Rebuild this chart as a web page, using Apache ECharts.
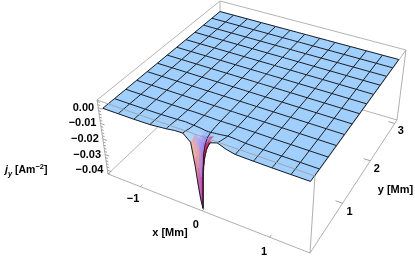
<!DOCTYPE html>
<html><head><meta charset="utf-8">
<style>html,body{margin:0;padding:0;background:#fff}#c{width:415px;height:257px;filter:blur(.45px)}</style>
<script src="https://cdn.jsdelivr.net/npm/echarts@6/dist/echarts.min.js"></script>
</head><body><div id="c"></div>
<script>
// ---- data ----
const xs=[-1.5,-1.25,-1,-.75,-.5,-.375,-.25,-.14,-.09,-.06,-.03,0,.03,.06,.09,.14,.25,.375,.5,.75,1,1.25,1.5];
const ys=[0,.03,.07,.12,.18,.25,.375,.5,.75,1,1.25,1.5,1.75,2,2.25,2.5,2.75,3];
const jy=[
[0,0,0,.0002,.0012,.002,.0022,-.002,-.016,-.027,-.036,-.0415,-.016,-.008,-.003,.002,.0036,.0015,.0003,.0001,0,0,0],
[0,0,0,.0002,.0012,.002,.002,-.0015,-.011,-.018,-.023,-.024,-.012,-.006,-.002,.0015,.0033,.0015,.0003,.0001,0,0,0],
[0,0,0,.0002,.0012,.002,.0018,-.001,-.005,-.008,-.009,-.009,-.006,-.003,-.0005,.0015,.0028,.0014,.0003,.0001,0,0,0],
[0,0,0,.0002,.001,.0016,.0012,0,-.002,-.003,-.004,-.004,-.003,-.0015,0,.001,.0022,.0012,.0003,.0001,0,0,0],
[0,0,0,.0001,.0008,.0012,.0008,-.0003,-.001,-.0015,-.0015,-.0015,-.001,-.0005,0,.0005,.0015,.001,.0003,.0001,0,0,0],
[0,0,0,.0001,.0005,.0008,.0004,0,-.0003,-.0005,-.0005,-.0005,-.0003,-.0001,0,.0002,.0009,.0007,.0002,0,0,0,0],
[0,0,0,0,.0003,.0004,.0002,.0001,0,0,-.0001,-.0001,0,0,0,.0001,.0003,.0003,.0001,0,0,0,0],
[0,0,0,0,.0001,.0002,.0001,.0001,0,0,0,0,0,0,0,.0001,.0001,.0001,.0001,0,0,0,0],
[0,0,0,0,0,0,0,0,0,0,0,0,0,0,0,0,0,0,0,0,0,0,0],
[0,0,0,0,0,0,0,0,0,0,0,0,0,0,0,0,0,0,0,0,0,0,0],
[0,0,0,0,0,0,0,0,0,0,0,0,0,0,0,0,0,0,0,0,0,0,0],
[0,0,0,0,0,0,0,0,0,0,0,0,0,0,0,0,0,0,0,0,0,0,0],
[0,0,0,0,0,0,0,0,0,0,0,0,0,0,0,0,0,0,0,0,0,0,0],
[0,0,0,0,0,0,0,0,0,0,0,0,0,0,0,0,0,0,0,0,0,0,0],
[0,0,0,0,0,0,0,0,0,0,0,0,0,0,0,0,0,0,0,0,0,0,0],
[0,0,0,0,0,0,0,0,0,0,0,0,0,0,0,0,0,0,0,0,0,0,0],
[0,0,0,0,0,0,0,0,0,0,0,0,0,0,0,0,0,0,0,0,0,0,0],
[0,0,0,0,0,0,0,0,0,0,0,0,0,0,0,0,0,0,0,0,0,0,0]
];
const meshXs=[-1.5,-1.25,-1,-.75,-.5,-.25,0,.25,.5,.75,1,1.25,1.5];
const meshYs=[0,.25,.5,.75,1,1.25,1.5,1.75,2,2.25,2.5,2.75,3];
const xTicks=[-1,0,1];
const yTicks=[1,2,3];
const zTicks=[0,-.01,-.02,-.03,-.04];
const zMinorTicks=[.004,.002,-.002,-.004,-.006,-.008,-.012,-.014,-.016,-.018,-.022,-.024,-.026,-.028,-.032,-.034,-.036,-.038,-.042];

// ---- view: box range and where its corners appear ----
const R={x0:-1.56,x1:1.56,y0:-.02,y1:3.1,z0:-.0425,z1:.005};
const topQuad=[[97,100],[315,176],[406,50],[220,1]];
const botQuad=[[108,174],[310,253],[397,120],[220,68]];
function homography(q){
  const [[x0,y0],[x1,y1],[x2,y2],[x3,y3]]=q;
  const dx1=x1-x2,dx2=x3-x2,sx=x0-x1+x2-x3,dy1=y1-y2,dy2=y3-y2,sy=y0-y1+y2-y3;
  const den=dx1*dy2-dx2*dy1,g=(sx*dy2-dx2*sy)/den,h=(dx1*sy-sx*dy1)/den;
  const a=x1-x0+g*x1,b=x3-x0+h*x3,d=y1-y0+g*y1,e=y3-y0+h*y3;
  return (u,v)=>{const w=g*u+h*v+1;return [(a*u+b*v+x0)/w,(d*u+e*v+y0)/w];};
}
const Ht=homography(topQuad),Hb=homography(botQuad);
function project(x,y,z){
  const u=(x-R.x0)/(R.x1-R.x0),v=(y-R.y0)/(R.y1-R.y0),t=(R.z1-z)/(R.z1-R.z0);
  const a=Ht(u,v),b=Hb(u,v);
  return [a[0]+(b[0]-a[0])*t,a[1]+(b[1]-a[1])*t];
}
// ---- shading ----
const mix=(a,b,t)=>a.map((v,i)=>v+(b[i]-v)*t);
function shade(i,j){
  const z00=jy[j][i],z10=jy[j][i+1],z01=jy[j+1][i],z11=jy[j+1][i+1];
  const zx=((z10-z00)+(z11-z01))/2/(xs[i+1]-xs[i]),zy=((z01-z00)+(z11-z10))/2/(ys[j+1]-ys[j]);
  const nx=-zx*(zx>.03?70:25),ny=-Math.sign(zy)*Math.min(2.2,Math.abs(zy)*40),l2=nx*nx+ny*ny+1;
  const wz=1/l2,wx=nx*nx/l2,wy=ny*ny/l2;
  const depth=Math.min(1,Math.max(0,-(z00+z10+z01+z11)/4/.035));
  const flat=[160,207,254],pale=[218,236,255];
  const steep=Math.pow(Math.min(1,Math.abs(nx)/2.5),2);
  const xc=mix(pale,nx>0?mix([255,200,145],[175,45,190],Math.pow(depth,1.5)):[215,35,85],steep);
  const yc=ny<0?mix([150,125,252],[205,60,170],depth):[205,228,255];
  const c=[0,1,2].map(n=>flat[n]*wz+xc[n]*wx+yc[n]*wy);
  return 'rgb('+c.map(Math.round).join(',')+')';
}
// ---- marks built from the arrays ----
const cellData=[];
for(let j=ys.length-2;j>=0;j--)for(let i=0;i<xs.length-1;i++)cellData.push({value:[xs[i],ys[j],jy[j][i]],ij:[i,j]});
const meshLines=[];
meshXs.forEach(mx=>{const i=xs.indexOf(mx);meshLines.push(ys.map((y,j)=>[mx,y,jy[j][i]]));});
meshYs.forEach(my=>{const j=ys.indexOf(my);meshLines.push(xs.map((x,i)=>[x,my,jy[j][i]]));});
const c3=[[R.x0,R.y0],[R.x1,R.y0],[R.x1,R.y1],[R.x0,R.y1]];
const edge=(a,za,b,zb)=>[[c3[a][0],c3[a][1],za],[c3[b][0],c3[b][1],zb]];
const backEdges=[edge(0,R.z1,3,R.z1),edge(3,R.z1,2,R.z1),edge(0,R.z0,3,R.z0),edge(3,R.z0,2,R.z0),edge(3,R.z0,3,R.z1),edge(1,R.z1,2,R.z1)];
const frontEdges=[edge(0,R.z1,1,R.z1),edge(0,R.z0,0,R.z1),edge(1,R.z0,1,R.z1),edge(2,R.z0,2,R.z1),edge(0,R.z0,1,R.z0),edge(1,R.z0,2,R.z0)];
const tickSegs=[];
xTicks.forEach(x=>tickSegs.push([[x,R.y0,R.z0],[x,R.y0+.05,R.z0]]));
yTicks.forEach(y=>tickSegs.push([[R.x1,y,R.z0],[R.x1-.1,y,R.z0]]));
zTicks.forEach(z=>tickSegs.push([[R.x0,R.y0,z],[R.x0+.07,R.y0,z]]));
zMinorTicks.forEach(z=>tickSegs.push([[R.x0,R.y0,z],[R.x0+.04,R.y0,z]]));
const minus=s=>s.replace('-','\u2212');
const FONT='"Liberation Sans",Arial,sans-serif';
const labels=[];
zTicks.forEach(z=>labels.push({p:[R.x0,R.y0,z],dx:-4,dy:0,align:'right',text:minus(z.toFixed(2))}));
xTicks.forEach(x=>labels.push({p:[x,R.y0-.3,R.z0],dx:5.5,dy:-.5,align:'center',text:minus(String(x))}));
yTicks.forEach(y=>labels.push({p:[R.x1+.15,y,R.z0],dx:-3.5,dy:5,align:'center',text:String(y)}));

function polyEl(pts,api,style){return {type:'polyline',silent:true,shape:{points:pts.map(p=>api.coord(project(p[0],p[1],p[2])))},style:Object.assign({fill:null},style)};}
function lineSeries(name,list,style,z){
  return {type:'custom',name,coordinateSystem:'cartesian2d',clip:false,silent:true,z,data:list.map((_,i)=>[i,i]),
    renderItem:(p,api)=>polyEl(list[p.dataIndex],api,style)};
}
const chart=echarts.init(document.getElementById('c'),null,{renderer:'canvas'});
chart.setOption({
  animation:false,backgroundColor:'#fff',
  grid:{left:0,right:0,top:0,bottom:0},
  xAxis:{type:'value',min:0,max:415,show:false},
  yAxis:{type:'value',min:0,max:257,inverse:true,show:false},
  series:[
    lineSeries('box back',backEdges,{stroke:'#b4b4b4',lineWidth:1},1),
    {type:'custom',name:'jy surface',coordinateSystem:'cartesian2d',clip:false,silent:true,z:2,data:cellData,
     renderItem:(p,api)=>{
       const [i,j]=cellData[p.dataIndex].ij,col=shade(i,j);
       const q=[[i,j],[i+1,j],[i+1,j+1],[i,j+1]].map(([a,b])=>api.coord(project(xs[a],ys[b],jy[b][a])));
       return {type:'polygon',silent:true,shape:{points:q},style:{fill:col,stroke:col,lineWidth:.6}};
     }},
    lineSeries('mesh',meshLines,{stroke:'#1a1d22',lineWidth:1},3),
    lineSeries('box front',frontEdges,{stroke:'#9a9a9a',lineWidth:.8},4),
    lineSeries('ticks',tickSegs,{stroke:'#8a8a8a',lineWidth:.8},4),
    {type:'custom',name:'tick labels',coordinateSystem:'cartesian2d',clip:false,silent:true,z:5,data:labels.map((_,i)=>[i,i]),
     renderItem:(p,api)=>{const l=labels[p.dataIndex],c=api.coord(project(l.p[0],l.p[1],l.p[2]));
       return {type:'text',silent:true,x:c[0]+l.dx,y:c[1]+l.dy,style:{text:l.text,align:l.align,verticalAlign:'middle',fill:'#000',font:'bold 11px '+FONT}};}},
    {type:'custom',name:'axis titles',coordinateSystem:'cartesian2d',clip:false,silent:true,z:5,data:[[0,0],[1,1],[2,2]],
     renderItem:(p,api)=>{
       if(p.dataIndex===2){const c=api.coord([5,170]);
         return {type:'text',silent:true,x:c[0],y:c[1],style:{text:'{j|j}{s|y}{b| [Am}{u|\u22122}{b|]}',align:'left',verticalAlign:'middle',fill:'#000',
           rich:{j:{font:'italic bold 10.5px '+FONT,lineHeight:15,verticalAlign:'middle'},s:{font:'italic bold 7.5px '+FONT,lineHeight:15,verticalAlign:'bottom'},b:{font:'bold 10.5px '+FONT,lineHeight:15,verticalAlign:'middle'},u:{font:'bold 7.5px '+FONT,lineHeight:15,verticalAlign:'top'}}}};}
       const c=api.coord(p.dataIndex===0?[170,233]:[395.5,190]);
       return {type:'text',silent:true,x:c[0],y:c[1],style:{text:p.dataIndex===0?'x [Mm]':'y [Mm]',align:'center',verticalAlign:'middle',fill:'#000',font:'bold 11px '+FONT}};
     }}
  ]
});
</script></body></html>
